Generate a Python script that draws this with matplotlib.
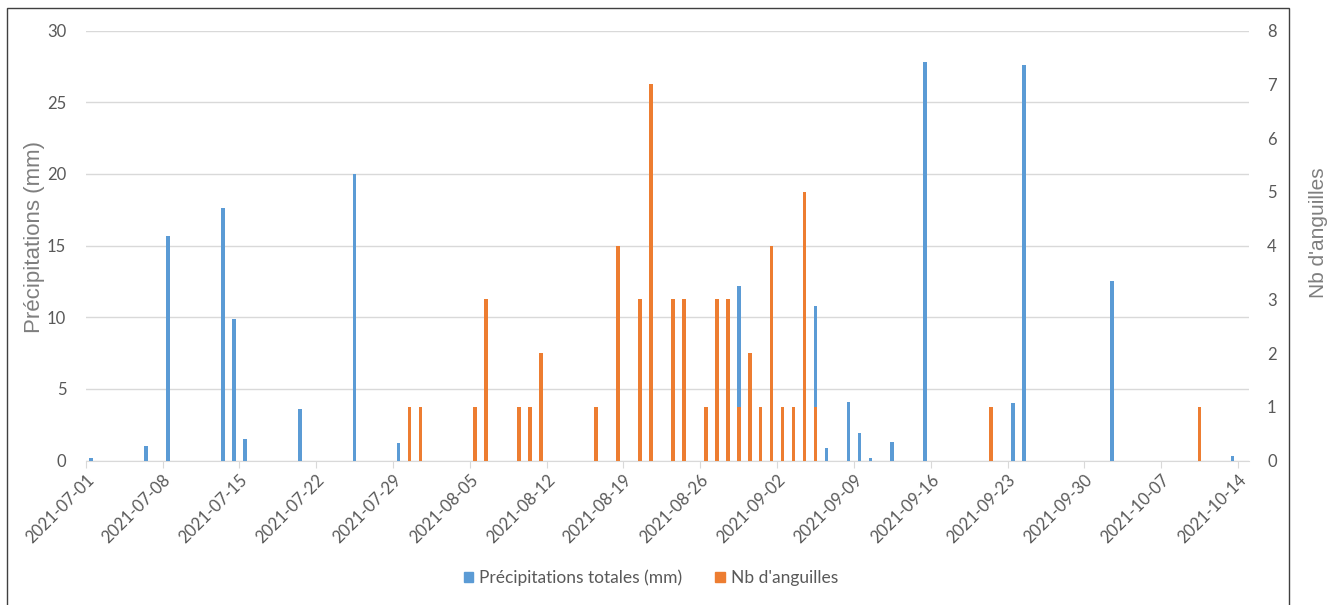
import matplotlib
matplotlib.use('Agg')
import matplotlib.pyplot as plt
import matplotlib.transforms as mtransforms
from matplotlib.patches import Patch, Rectangle
import pandas as pd

# rainfall per day (mm), left axis
rain_dates = ['2021-07-01', '2021-07-06', '2021-07-08', '2021-07-13', '2021-07-14',
              '2021-07-15', '2021-07-20', '2021-07-25', '2021-07-29', '2021-08-29',
              '2021-09-05', '2021-09-06', '2021-09-08', '2021-09-09', '2021-09-10',
              '2021-09-12', '2021-09-15', '2021-09-23', '2021-09-24', '2021-10-02',
              '2021-10-13']
rain_mm = [0.2, 1.0, 15.7, 17.6, 9.9,
           1.5, 3.6, 20.0, 1.2, 12.2,
           10.8, 0.9, 4.1, 1.9, 0.2,
           1.3, 27.8, 4.0, 27.6, 12.5,
           0.3]

# eels counted per day, right axis
eel_dates = ['2021-07-30', '2021-07-31', '2021-08-05', '2021-08-06', '2021-08-09',
             '2021-08-10', '2021-08-11', '2021-08-16', '2021-08-18', '2021-08-20',
             '2021-08-21', '2021-08-23', '2021-08-24', '2021-08-26', '2021-08-27',
             '2021-08-28', '2021-08-29', '2021-08-30', '2021-08-31', '2021-09-01',
             '2021-09-02', '2021-09-03', '2021-09-04', '2021-09-05', '2021-09-21',
             '2021-10-10']
eel_count = [1, 1, 1, 3, 1,
             1, 2, 1, 4, 3,
             7, 3, 3, 1, 3,
             3, 1, 2, 1, 4,
             1, 1, 5, 1, 1,
             1]

rain_label = 'Précipitations totales (mm)'
eel_label = "Nb d'anguilles"

blue = '#5B9BD5'
orange = '#ED7D31'
txt = '#595959'
grid = '#D9D9D9'
tickfont = 'Lato'

W, H = 1329, 605
fig = plt.figure(figsize=(W/100, H/100), dpi=100)
x0, x1, ytop, ybot = 85.7, 1249.0, 30.7, 460.5
ax = fig.add_axes([x0/W, 1-ybot/H, (x1-x0)/W, (ybot-ytop)/H])
ax2 = ax.twinx()

half_day = pd.Timedelta(hours=12)
rd = pd.to_datetime(rain_dates) + half_day
ed = pd.to_datetime(eel_dates) + half_day
ax.bar(rd, rain_mm, width=0.34, color=blue, zorder=3)
ax2.bar(ed, eel_count, width=0.34, color=orange, zorder=3)

ax.set_ylim(0, 30)
ax.set_yticks(range(0, 31, 5))
ax2.set_ylim(0, 8)
ax2.set_yticks(range(0, 9))
ax.set_xlim(pd.Timestamp('2021-07-01'), pd.Timestamp('2021-10-15'))
ticks = pd.date_range('2021-07-01', '2021-10-14', freq='7D')
ax.set_xticks(ticks)
ax.set_xticklabels([t.strftime('%Y-%m-%d') for t in ticks], rotation=45,
                   ha='right', va='top', rotation_mode='anchor',
                   color=txt, fontsize=12, family=tickfont)
# nudge the slanted date labels a little to the right of their ticks
shift = mtransforms.ScaledTranslation(5/72, 0, fig.dpi_scale_trans)
for lab in ax.get_xticklabels():
    lab.set_transform(lab.get_transform() + shift)

ax.grid(axis='y', color=grid, lw=1, zorder=0)
ax.set_axisbelow(True)
for a in (ax, ax2):
    for s in a.spines.values():
        s.set_visible(False)
ax.spines['bottom'].set_visible(True)
ax.spines['bottom'].set_color(grid)
ax.tick_params(axis='x', length=5, color=grid, pad=3)
ax.tick_params(axis='y', length=0, pad=14, labelcolor=txt, labelsize=12)
ax2.tick_params(axis='y', length=0, pad=13, labelcolor=txt, labelsize=12)
for lab in ax.get_yticklabels() + ax2.get_yticklabels():
    lab.set_family(tickfont)

fig.text(35/W, 1-237/H, 'Précipitations (mm)', rotation=90, ha='center', va='center',
         fontsize=16, color='#7F7F7F', family='Liberation Sans')
fig.text(1318/W, 1-233/H, eel_label, rotation=90, ha='center', va='center',
         fontsize=15, color='#7F7F7F', family='Liberation Sans')

handles = [Patch(color=blue, label=rain_label), Patch(color=orange, label=eel_label)]
fig.legend(handles=handles, loc='center', bbox_to_anchor=(651/W, 1-578/H), ncol=2,
           frameon=False, handlelength=0.55, handleheight=0.55, handletextpad=0.35,
           columnspacing=1.9, prop={'family': tickfont, 'size': 12.5}, labelcolor=txt)

# chart frame
fig.add_artist(Rectangle((7/W, -0.02), (1289-7)/W, 1-7.7/H+0.02, transform=fig.transFigure,
                         fill=False, edgecolor='#404040', lw=1))

fig.savefig('out.png', dpi=100)
